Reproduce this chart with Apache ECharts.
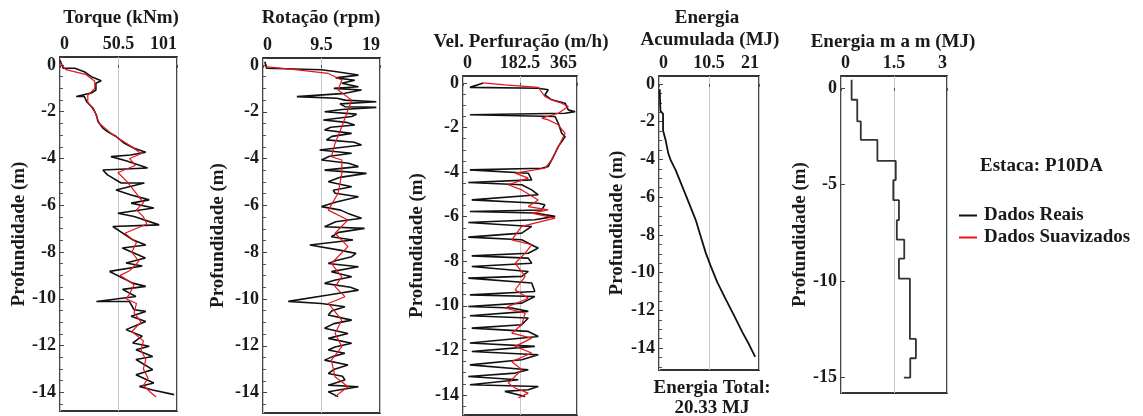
<!DOCTYPE html>
<html>
<head>
<meta charset="utf-8">
<script src="https://cdn.jsdelivr.net/npm/echarts@6/dist/echarts.min.js"></script>
<style>
  html, body { margin: 0; padding: 0; background: #fff; }
  #chart { width: 1143px; height: 416px; }
</style>
</head>
<body>
<div id="chart"></div>
<script>
// Torque (kNm) x profundidade (m)
const torqueRealDepth = [0.2, -0.14, -0.14, -0.29, -0.5, -0.68, -0.78, -1.07, -1.2, -1.35, -1.35, -1.57, -1.85, -2.14, -2.42, -2.7, -2.85, -3.06, -3.35, -3.56, -3.73, -3.85, -3.92, -4.1, -4.41, -4.49, -4.7, -5.05, -5.05, -5.35, -5.56, -5.77, -5.91, -6.12, -6.34, -6.48, -6.84, -6.91, -7.48, -7.7, -7.83, -8.26, -8.47, -8.6, -8.83, -9.33, -9.47, -9.6, -9.9, -10.12, -10.12, -10.47, -10.54, -10.75, -10.97, -11.32, -11.6, -11.89, -12.03, -12.18, -12.47, -12.6, -13.03, -13.25, -13.6, -13.75, -13.9, -14.1]
const torqueReal = [0, 2.8, 12.8, 21, 27, 35.6, 31, 31, 27, 14, 21, 23, 28.5, 31.4, 32.8, 37, 41, 48.5, 55.6, 64, 74, 61, 44, 57, 75.6, 37, 41, 52.8, 72.8, 48.4, 61.4, 77, 61.4, 81, 50, 64, 85.6, 45.6, 62.8, 74, 53.8, 73.7, 57, 71, 42.8, 62.8, 74, 54, 65.5, 31.4, 60, 64, 74, 61.4, 74, 57, 71, 62.8, 77, 65.6, 80, 65.6, 80, 65.6, 81, 68.5, 80, 98.5]
const torqueSmoothDepth = [0.1, -0.2, -0.4, -0.7, -1.0, -1.3, -1.6, -2.0, -2.5, -3.0, -3.5, -3.8, -4.0, -4.3, -4.6, -5.0, -5.5, -5.9, -6.2, -6.5, -6.8, -7.2, -7.6, -8.0, -8.4, -8.8, -9.0, -9.4, -9.8, -10.0, -10.2, -10.6, -11.0, -11.4, -11.8, -12.2, -12.6, -13.0, -13.4, -13.7, -14.0, -14.2]
const torqueSmooth = [0, 5, 22, 30, 30, 24, 24, 30, 34, 46, 62, 70, 60, 65, 50, 58, 66, 72, 66, 72, 75, 56, 66, 62, 68, 60, 52, 64, 60, 57, 66, 64, 70, 62, 72, 70, 74, 72, 76, 72, 78, 83]

// Rotação (rpm)
const rotRealDepth = [0.14, -0.14, -0.2, -0.28, -0.43, -0.55, -0.65, -0.78, -0.93, -1.0, -1.07, -1.21, -1.35, -1.42, -1.5, -1.57, -1.66, -1.78, -1.81, -1.9, -2.0, -2.1, -2.2, -2.35, -2.45, -2.56, -2.66, -2.78, -2.92, -3.05, -3.2, -3.3, -3.42, -3.63, -3.77, -3.9, -4.06, -4.2, -4.34, -4.49, -4.63, -4.8, -4.99, -5.2, -5.35, -5.48, -5.63, -5.85, -6.05, -6.2, -6.34, -6.55, -6.7, -6.91, -6.98, -7.15, -7.34, -7.48, -7.69, -7.9, -8.05, -8.19, -8.35, -8.48, -8.62, -8.83, -9.05, -9.2, -9.33, -9.5, -9.62, -9.83, -10.1, -10.19, -10.33, -10.5, -10.68, -10.9, -11.05, -11.25, -11.47, -11.68, -11.89, -12.05, -12.18, -12.32, -12.45, -12.61, -12.82, -13.0, -13.18, -13.3, -13.46, -13.68, -13.75, -13.96, -14.17]
const rotReal = [0.3, 0.6, 9.5, 11.7, 15.5, 11.8, 14.9, 12.8, 15.5, 11.5, 16, 13.3, 5.5, 12, 13.3, 18.4, 12.5, 13.3, 18.4, 12.8, 10, 15.2, 14.4, 9.8, 13.5, 14.9, 11, 10, 14.4, 11.2, 10.3, 14.8, 16, 9.2, 14.4, 10.8, 9.5, 13.9, 15.5, 10, 16.8, 12.5, 10.6, 14.4, 11.4, 11.7, 15.5, 11.9, 9.5, 12.6, 13.8, 16, 11.8, 10, 16.5, 12.3, 11.1, 14.6, 7.6, 12.2, 15.1, 14.4, 11.9, 10.6, 15.5, 11.1, 14.4, 11.6, 10, 14.2, 15.5, 10.6, 4.1, 9.5, 13.3, 11.2, 10.6, 14.4, 11.5, 10, 13.8, 10.6, 14.4, 11.7, 10.6, 13.3, 11.4, 10, 13.8, 11.6, 10.6, 12.9, 13.3, 10.6, 15.5, 10.6, 12.2]
const rotSmoothDepth = [-0.07, -0.2, -0.36, -0.64, -1.07, -1.5, -1.92, -2.64, -3.35, -3.92, -4.06, -4.63, -5.48, -6.2, -6.62, -7.19, -7.76, -8.48, -9.05, -9.47, -9.9, -10.19, -10.9, -11.47, -12.03, -12.61, -13.32, -13.75, -14.17]
const rotSmooth = [0.3, 5.2, 10.6, 12.8, 12.2, 14.4, 13.8, 12.8, 11.7, 11.1, 12.8, 12.8, 12.2, 10.6, 13.8, 11.7, 13.8, 11.1, 12.8, 11.7, 13.3, 10.6, 12.8, 11.7, 12.8, 11.1, 11.7, 13.8, 11.7]

// Vel. Perfuração (m/h)
const velRealDepth = [0, -0.2, -0.24, -0.31, -0.54, -0.76, -0.91, -1.21, -1.29, -1.36, -1.43, -1.51, -1.81, -2.26, -2.41, -2.86, -3.15, -3.45, -3.75, -3.83, -3.9, -4.05, -4.35, -4.47, -4.57, -4.8, -5.02, -5.25, -5.4, -5.47, -5.7, -5.77, -5.84, -5.99, -6.14, -6.26, -6.44, -6.74, -6.92, -7.04, -7.34, -7.41, -7.64, -7.76, -7.86, -8.09, -8.24, -8.46, -8.68, -8.76, -8.98, -9.36, -9.51, -9.58, -9.88, -10.03, -10.1, -10.25, -10.45, -10.55, -10.85, -11.0, -11.15, -11.38, -11.67, -11.82, -12.05, -12.2, -12.42, -12.65, -12.87, -13.02, -13.17, -13.32, -13.54, -13.62, -13.77, -13.84, -13.99, -14.07]
const velReal = [65, 22, 241, 273, 262, 284, 327, 337, 359, 327, 22, 295, 305, 316, 327, 305, 295, 284, 273, 252, 22, 209, 220, 17, 188, 220, 241, 28, 241, 262, 252, 22, 230, 295, 230, 17, 220, 188, 17, 188, 230, 241, 209, 28, 209, 220, 28, 209, 188, 17, 220, 230, 22, 230, 188, 17, 156, 209, 22, 209, 188, 28, 209, 241, 22, 230, 28, 241, 188, 22, 209, 167, 17, 177, 22, 241, 209, 134, 177, 199]
const velSmoothDepth = [0, -0.09, -0.2, -0.61, -0.76, -0.91, -1.06, -1.36, -1.58, -1.66, -1.88, -2.26, -2.86, -3.45, -3.83, -4.05, -4.27, -4.57, -4.8, -5.25, -5.55, -5.7, -5.84, -6.07, -6.44, -7.04, -7.26, -7.64, -8.09, -8.68, -9.28, -9.66, -10.1, -10.33, -10.85, -11.23, -11.45, -11.82, -12.12, -12.5, -12.87, -13.47, -13.69, -13.92, -14.13]
const velSmooth = [65, 134, 241, 262, 284, 316, 337, 305, 252, 273, 305, 327, 305, 284, 262, 167, 209, 145, 188, 241, 209, 273, 220, 295, 188, 156, 220, 199, 167, 199, 167, 209, 134, 199, 188, 156, 220, 167, 220, 156, 188, 145, 167, 209, 177]

// Energia acumulada (MJ)
const energyAccDepth = [-0.28, -1.42, -1.59, -2.47, -2.99, -3.69, -4.04, -4.57, -5.44, -6.32, -7.2, -8.07, -8.94, -9.64, -10.52, -11.4, -12.27, -13.15, -13.85, -14.46]
const energyAcc = [0.15, 0.3, 0.85, 0.85, 1.4, 1.96, 2.45, 3.5, 4.9, 6.3, 7.7, 8.75, 9.8, 10.85, 12.25, 14.0, 15.75, 17.5, 19.0, 20.2]

// Energia metro a metro (MJ), degraus
const energyStepDepth = [0.43, -0.61, -0.61, -1.73, -1.73, -2.69, -2.69, -3.78, -3.78, -4.77, -4.77, -5.81, -5.81, -6.85, -6.85, -7.86, -7.86, -8.84, -8.84, -9.88, -9.88, -13.0, -13.0, -14.0, -14.0, -15.0, -15.0]
const energyStep = [0.3, 0.3, 0.46, 0.46, 0.56, 0.56, 1.03, 1.03, 1.55, 1.55, 1.48, 1.48, 1.64, 1.64, 1.58, 1.58, 1.79, 1.79, 1.64, 1.64, 1.95, 1.95, 2.12, 2.12, 1.96, 1.96, 1.78]

const xTicks = [[0, 50.5, 101], [0, 9.5, 19], [0, 182.5, 365], [0, 10.5, 21], [0, 1.5, 3]]

const FONT = 'Liberation Serif'
const INK = '#1a1a1a'
const BLACK = '#111'
const RED = '#e8141b'

// posição de cada painel
const panels = [
  { left: 60, top: 57, width: 117, height: 354, yMin: -14.8, yMax: 0.34, yStep: 2, nameGap: 22, minor: true },
  { left: 263, top: 58, width: 117, height: 355, yMin: -14.87, yMax: 0.3, yStep: 2, nameGap: 35, minor: true },
  { left: 463, top: 76, width: 114, height: 339, yMin: -14.9, yMax: 0.31, yStep: 2, nameGap: 36, minor: true },
  { left: 659, top: 76, width: 100, height: 294, yMin: -15.16, yMax: 0.42, yStep: 2, nameGap: 32, minor: true },
  { left: 841, top: 76, width: 106, height: 317, yMin: -15.8, yMax: 0.62, yStep: 5, nameGap: 27, minor: false }
]

function pairs(vals, depths) {
  return vals.map((v, i) => [v, depths[i]])
}

const grid = panels.map(p => ({
  left: p.left, top: p.top, width: p.width, height: p.height,
  show: true, borderColor: '#333', borderWidth: 1.8, backgroundColor: 'transparent'
}))

const xAxis = panels.map((p, i) => {
  const t = xTicks[i]
  return {
    type: 'value', gridIndex: i, position: 'top',
    min: t[0], max: t[2], interval: t[1],
    axisLine: { show: false },
    axisTick: { show: true, inside: true, length: 3, lineStyle: { color: '#555' } },
    splitLine: { show: true, lineStyle: { color: '#c8c8c8', width: 1 } },
    axisLabel: {
      margin: 4, color: INK, fontFamily: FONT, fontWeight: 'bold', fontSize: 18,
      alignMinLabel: 'left', alignMaxLabel: 'right',
      formatter: v => String(v)
    }
  }
})

const yAxis = panels.map((p, i) => ({
  type: 'value', gridIndex: i,
  min: p.yMin, max: p.yMax, splitNumber: p.yStep === 5 ? 3 : 7,
  name: 'Profundidade (m)', nameLocation: 'middle', nameGap: p.nameGap,
  nameTextStyle: { color: INK, fontFamily: FONT, fontWeight: 'bold', fontSize: 19 },
  axisLine: { show: false },
  axisTick: { show: true, inside: true, length: 4, lineStyle: { color: '#444' } },
  minorTick: { show: p.minor, splitNumber: 4, length: 3, lineStyle: { color: '#555' } },
  splitLine: { show: false },
  axisLabel: {
    margin: 4, color: INK, fontFamily: FONT, fontWeight: 'bold', fontSize: 18,
    formatter: v => (Math.abs(v % p.yStep) < 1e-6 ? String(Math.round(v)) : '')
  }
}))

function line(name, idx, data, color, width, z) {
  return {
    type: 'line', name: name, xAxisIndex: idx, yAxisIndex: idx,
    data: data, showSymbol: false, symbol: 'none', z: z,
    lineStyle: { color: color, width: width }, itemStyle: { color: color }
  }
}

const series = [
  line('Dados Reais', 0, pairs(torqueReal, torqueRealDepth), BLACK, 1.6, 2),
  line('Dados Suavizados', 0, pairs(torqueSmooth, torqueSmoothDepth), RED, 1.2, 3),
  line('Dados Reais', 1, pairs(rotReal, rotRealDepth), BLACK, 1.6, 2),
  line('Dados Suavizados', 1, pairs(rotSmooth, rotSmoothDepth), RED, 1.2, 3),
  line('Dados Reais', 2, pairs(velReal, velRealDepth), BLACK, 1.6, 2),
  line('Dados Suavizados', 2, pairs(velSmooth, velSmoothDepth), RED, 1.2, 3),
  line('Dados Reais', 3, pairs(energyAcc, energyAccDepth), BLACK, 1.8, 2),
  line('Dados Reais', 4, pairs(energyStep, energyStepDepth), '#333', 1.8, 2)
]

function label(text, x, y, align) {
  return {
    type: 'text', x: x, y: y, silent: true,
    style: {
      text: text, fill: INK, font: 'bold 19px "' + FONT + '"',
      textAlign: align || 'center', textVerticalAlign: 'middle'
    }
  }
}

const graphic = [
  label('Torque (kNm)', 121, 18),
  label('Rotação (rpm)', 321, 18),
  label('Vel. Perfuração (m/h)', 521, 42),
  label('Energia', 707, 18),
  label('Acumulada (MJ)', 710, 40),
  label('Energia m a m (MJ)', 893, 42),
  label('Energia Total:', 712, 388),
  label('20.33 MJ', 712, 408),
  label('Estaca: P10DA', 980, 166, 'left')
]

const chart = echarts.init(document.getElementById('chart'), null, { renderer: 'canvas' })
chart.setOption({
  animation: false,
  backgroundColor: '#fff',
  grid: grid,
  xAxis: xAxis,
  yAxis: yAxis,
  series: series,
  graphic: graphic,
  legend: {
    data: ['Dados Reais', 'Dados Suavizados'],
    orient: 'vertical', left: 954, top: 201, itemGap: 3,
    itemWidth: 18, itemHeight: 2, icon: 'rect',
    textStyle: { color: INK, fontFamily: FONT, fontWeight: 'bold', fontSize: 19, padding: [0, 0, 0, 2] }
  }
})
</script>
</body>
</html>
